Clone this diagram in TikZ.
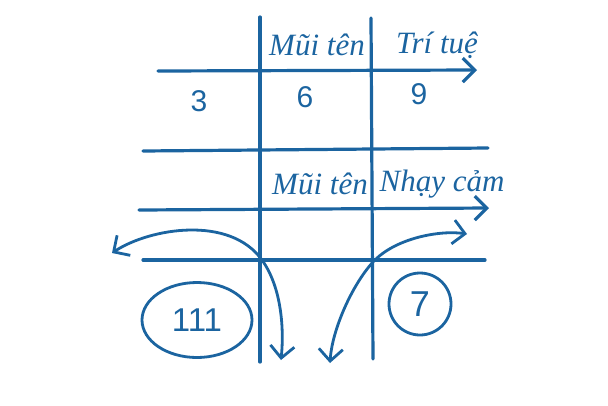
\documentclass[tikz,border=0pt]{standalone}
\usepackage{fontspec}
\setmainfont{Liberation Serif}
\newfontfamily\digitfont{Liberation Sans}
\usetikzlibrary{arrows.meta,shapes.geometric}
\definecolor{pen}{HTML}{1B64A0}

\begin{document}
\begin{tikzpicture}[x=1pt,y=-1pt,>={Straight Barb[length=12pt,width=24pt]},
 ln/.style={draw=pen,line width=3.2pt,line cap=round},
 arr/.style={->,draw=pen,line width=3.2pt,line cap=round},
 swing/.style={<->,draw=pen,line width=2.8pt,line cap=round},
 lbl/.style={text=pen,font=\itshape\fontsize{31}{33}\selectfont,inner sep=0pt},
 num/.style={text=pen,font=\digitfont\fontsize{30}{32}\selectfont,inner sep=0pt}]
\useasboundingbox (0,0) rectangle (608,405);
% grid ends
\coordinate (v1t) at (260,17);\coordinate (v1b) at (260,362);
\coordinate (v2t) at (371,18);\coordinate (v2b) at (373,359);
\coordinate (h1l) at (158,71);\coordinate (h1r) at (477,70);
\coordinate (h2l) at (143,151);\coordinate (h2r) at (488,148);
\coordinate (h3l) at (139,210);\coordinate (h3r) at (489,208);
\coordinate (h4l) at (143,260);\coordinate (h4r) at (485,260);
\draw[ln] (v1t)--(v1b);\draw[ln] (v2t)--(v2b);
\draw[arr] (h1l)--(h1r);\draw[ln] (h2l)--(h2r);
\draw[arr] (h3l)--(h3r);\draw[ln] (h4l)--(h4r);
% labels
\node[lbl] (tip1) at (317,45) {Mũi tên};
\node[lbl] (wis) at (437,45) {Trí tuệ};
\node[lbl] (tip2) at (320,184) {Mũi tên};
\node[lbl] (sens) at (442,184) {Nhạy cảm};
\node[num] (three) at (199,101) {3};
\node[num] (six) at (305,97) {6};
\node[num] (nine) at (419,94) {9};
% bottom row
\node[draw=pen,line width=2.8pt,ellipse,minimum width=110pt,minimum height=75pt,num,font=\digitfont\fontsize{33}{35}\selectfont] (ones) at (197,320) {111};
\node[draw=pen,line width=2.8pt,circle,minimum size=62pt,num,font=\digitfont\fontsize{36}{38}\selectfont] (seven) at (420,304) {7};
% curved arrows
\coordinate (lend) at (112,253);\coordinate (lmid) at (262,260);\coordinate (ldown) at (281,360);
\coordinate (rend) at (467,234);\coordinate (rmid) at (373,262);\coordinate (rdown) at (330,363);
\draw[swing] (lend) .. controls (150,228) and (230,215) .. (lmid)
 .. controls (282,288) and (284,330) .. (ldown);
\draw[swing] (rdown) .. controls (332,330) and (352,285) .. (rmid)
 .. controls (395,238) and (440,230) .. (rend);
\end{tikzpicture}
\end{document}
